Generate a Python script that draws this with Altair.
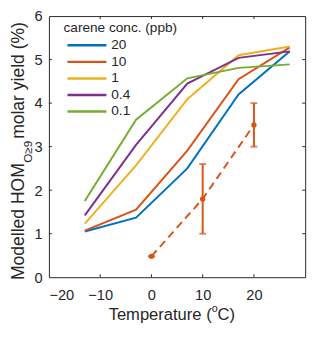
import altair as alt
import pandas as pd

temps = [-13, -3, 7, 17, 27]
conc_labels = ["20", "10", "1", "0.4", "0.1"]
yield_20 = [1.05, 1.37, 2.50, 4.20, 5.19]
yield_10 = [1.07, 1.55, 2.91, 4.55, 5.28]
yield_1 = [1.23, 2.57, 4.09, 5.10, 5.30]
yield_04 = [1.42, 3.04, 4.45, 5.04, 5.19]
yield_01 = [1.75, 3.62, 4.57, 4.81, 4.89]
colors = ["#0072BD", "#D95319", "#EDB120", "#7E2F8E", "#77AC30"]

meas_t = [0, 10, 20]
meas_y = [0.48, 1.8, 3.5]
meas_lo = [0.48, 1.0, 3.0]
meas_hi = [0.48, 2.6, 4.0]

x_ticks = [-10, 0, 10, 20]
y_ticks = [1, 2, 3, 4, 5]

W, H = 263, 268
AX = "#262626"
FONT = "Liberation Sans"

series = [yield_20, yield_10, yield_1, yield_04, yield_01]
rows = []
for lab, ys in zip(conc_labels, series):
    for t, v in zip(temps, ys):
        rows.append({"T": t, "Y": v, "conc": lab})
df = pd.DataFrame(rows)
dm = pd.DataFrame({"T": meas_t, "Y": meas_y, "lo": meas_lo, "hi": meas_hi})
dxt = pd.DataFrame({"v": x_ticks})
dyt = pd.DataFrame({"v": y_ticks})

xs = alt.Scale(domain=[-20, 30], nice=False, zero=False)
ys_ = alt.Scale(domain=[0, 6], nice=False)

lines = alt.Chart(df).mark_line(strokeWidth=2).encode(
    x=alt.X("T:Q", scale=xs, axis=alt.Axis(values=[-20, -10, 0, 10, 20], title=None)),
    y=alt.Y("Y:Q", scale=ys_, axis=alt.Axis(values=[0, 1, 2, 3, 4, 5, 6], title=None)),
    color=alt.Color("conc:N", sort=conc_labels,
                    scale=alt.Scale(domain=conc_labels, range=colors),
                    legend=alt.Legend(title="carene conc. (ppb)", orient="none",
                                      legendX=15, legendY=5)),
    order=alt.Order("T:Q"),
)

mline = alt.Chart(dm).mark_line(strokeWidth=2, strokeDash=[8, 5], color="#D95319").encode(
    x=alt.X("T:Q", scale=xs), y=alt.Y("Y:Q", scale=ys_))
mpts = alt.Chart(dm).mark_circle(size=30, color="#D95319", opacity=1).encode(
    x=alt.X("T:Q", scale=xs), y=alt.Y("Y:Q", scale=ys_))
merr = alt.Chart(dm).mark_rule(strokeWidth=2, color="#D95319").encode(
    x=alt.X("T:Q", scale=xs), y=alt.Y("lo:Q", scale=ys_), y2="hi:Q")
mcap_lo = alt.Chart(dm).mark_tick(orient="horizontal", size=7, thickness=2, color="#D95319").encode(
    x=alt.X("T:Q", scale=xs), y=alt.Y("lo:Q", scale=ys_))
mcap_hi = alt.Chart(dm).mark_tick(orient="horizontal", size=7, thickness=2, color="#D95319").encode(
    x=alt.X("T:Q", scale=xs), y=alt.Y("hi:Q", scale=ys_))

tick_style = dict(color=AX, strokeWidth=1)
tb = alt.Chart(dxt).mark_rule(**tick_style).encode(x=alt.X("v:Q", scale=xs), y=alt.value(H), y2=alt.value(H - 3))
tt = alt.Chart(dxt).mark_rule(**tick_style).encode(x=alt.X("v:Q", scale=xs), y=alt.value(0), y2=alt.value(3))
tl = alt.Chart(dyt).mark_rule(**tick_style).encode(y=alt.Y("v:Q", scale=ys_), x=alt.value(0), x2=alt.value(3))
tr = alt.Chart(dyt).mark_rule(**tick_style).encode(y=alt.Y("v:Q", scale=ys_), x=alt.value(W), x2=alt.value(W - 3))


def txt(s, size, x, y, align, angle=0):
    kw = dict(fontSize=size, align=align, baseline="alphabetic", font=FONT, color=AX)
    if angle:
        kw["angle"] = angle
    return alt.Chart(pd.DataFrame({"t": [s]})).mark_text(**kw).encode(
        text="t:N", x=alt.value(x), y=alt.value(y))


# y-axis title with subscript
yt1 = txt("Modelled HOM", 18, -25.5, 151, "right", 270)
yt2 = txt("O≥9", 12, -17.5, 150.5, "left", 270)
yt3 = txt(" molar yield (%)", 18, -25.5, 126, "left", 270)

# x-axis title with superscript
xt1 = txt("Temperature (", 17, 167, 312, "right")
xt2 = txt("o", 11, 167, 303.5, "left")
xt3 = txt("C)", 17, 173, 312, "left")

chart = alt.layer(lines, mline, merr, mcap_lo, mcap_hi, mpts, tb, tt, tl, tr,
                  yt1, yt2, yt3, xt1, xt2, xt3).properties(
    width=W, height=H,
    autosize=alt.AutoSizeParams(type="none"),
    padding={"left": 42, "top": 4, "right": 7, "bottom": 55},
).configure_view(stroke=AX, strokeWidth=1).configure_axis(
    domain=False, grid=False, ticks=False, tickSize=0,
    labelFont=FONT, labelFontSize=15, labelColor=AX,
).configure_axisX(labelPadding=11).configure_axisY(labelPadding=7).configure_legend(
    symbolType="M-4,0L4,0", symbolSize=100, symbolStrokeWidth=2.5,
    symbolFillColor="transparent", symbolOffset=17,
    labelFont=FONT, labelFontSize=14, labelColor=AX, labelOffset=18,
    titleFont=FONT, titleFontSize=14, titleFontWeight="normal", titleColor=AX,
    padding=0, rowPadding=3, titlePadding=4,
)

chart.save("out.html", embed_options={"renderer": "svg", "actions": False})
